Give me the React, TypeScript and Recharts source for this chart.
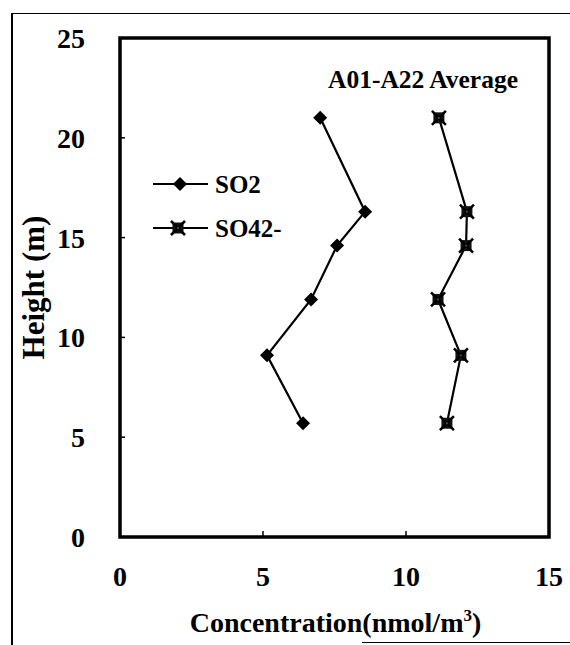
import React from "react";
import {
  ScatterChart,
  Scatter,
  XAxis,
  YAxis,
  ReferenceArea,
  Legend,
} from "recharts";

const HEIGHTS = [21.0, 16.3, 14.6, 11.9, 9.1, 5.7];
const SO2 = [7.0, 8.57, 7.59, 6.68, 5.14, 6.4];
const SO4 = [11.15, 12.13, 12.1, 11.12, 11.92, 11.43];
const X_TICKS = [0, 5, 10, 15];
const Y_TICKS = [0, 5, 10, 15, 20, 25];
const SERIES_NAMES = ["SO2", "SO42-"];
const TITLE = "A01-A22 Average";

const FONT = "'Liberation Serif', 'Times New Roman', serif";

const so2Data = HEIGHTS.map((h, i) => ({ conc: SO2[i], height: h }));
const so4Data = HEIGHTS.map((h, i) => ({ conc: SO4[i], height: h }));

const Diamond = ({ cx, cy }: any) => (
  <polygon
    points={`${cx},${cy - 7} ${cx + 7},${cy} ${cx},${cy + 7} ${cx - 7},${cy}`}
    fill="#000"
  />
);

const StarSquare = ({ cx, cy }: any) => (
  <g>
    <rect x={cx - 5.5} y={cy - 5.5} width={11} height={11} fill="#111" />
    <line x1={cx - 7} y1={cy - 7} x2={cx + 7} y2={cy + 7} stroke="#000" strokeWidth={2.5} />
    <line x1={cx - 7} y1={cy + 7} x2={cx + 7} y2={cy - 7} stroke="#000" strokeWidth={2.5} />
    <rect x={cx - 1} y={cy - 1} width={2} height={2} fill="#444" />
  </g>
);

const LegendBox = () => (
  <svg width={150} height={80}>
    {SERIES_NAMES.map((name, i) => {
      const y = 19 + i * 44;
      return (
        <g key={name}>
          <line x1={3} y1={y} x2={58} y2={y} stroke="#000" strokeWidth={2} />
          {i === 0 ? <Diamond cx={30} cy={y} /> : <StarSquare cx={28} cy={y} />}
          <text
            x={65}
            y={y + 9}
            fontFamily={FONT}
            fontWeight="bold"
            fontSize={25}
            fill="#000"
          >
            {name}
          </text>
        </g>
      );
    })}
  </svg>
);

const TitleLabel = ({ viewBox }: any) => (
  <text
    x={viewBox.x + viewBox.width - 31}
    y={viewBox.y + 50}
    textAnchor="end"
    fontFamily={FONT}
    fontWeight="bold"
    fontSize={25.5}
    fill="#000"
  >
    {TITLE}
  </text>
);

const XTitle = ({ viewBox }: any) => (
  <text
    x={viewBox.x + viewBox.width / 2 + 1}
    y={viewBox.y + 95}
    textAnchor="middle"
    fontFamily={FONT}
    fontWeight="bold"
    fontSize={28}
    fill="#000"
  >
    Concentration(nmol/m
    <tspan dy={-11} fontSize={17}>3</tspan>
    <tspan dy={11}>)</tspan>
  </text>
);

const tickStyle = {
  fill: "#000",
  fontSize: 28,
  fontWeight: "bold",
  fontFamily: FONT,
};

export default function App() {
  return (
    <div style={{ position: "absolute", left: 0, top: 0, width: 570, height: 645, background: "#fff" }}>
      {/* scanned page frame */}
      <div style={{ position: "absolute", left: 12, top: 13, width: 558, height: 0, borderTop: "1.5px solid #000" }} />
      <div style={{ position: "absolute", left: 11, top: 13, width: 0, height: 632, borderLeft: "2px solid #000" }} />
      <div style={{ position: "absolute", left: 362, top: 642, width: 208, height: 0, borderTop: "1.5px solid #000" }} />
      <ScatterChart
        width={570}
        height={645}
        margin={{ top: 38, right: 21, bottom: 0, left: 0 }}
        style={{ position: "absolute", left: 0, top: 0 }}
      >
        <XAxis
          type="number"
          dataKey="conc"
          domain={[0, 15]}
          ticks={X_TICKS}
          height={108}
          axisLine={false}
          tickSize={-6}
          tickMargin={35}
          tickLine={{ stroke: "#000", strokeWidth: 1.5 }}
          tick={tickStyle}
          label={<XTitle />}
        />
        <YAxis
          type="number"
          dataKey="height"
          domain={[0, 25]}
          ticks={Y_TICKS}
          width={120}
          axisLine={false}
          tickSize={-5}
          tickMargin={40}
          tickLine={{ stroke: "#000", strokeWidth: 1.5 }}
          tick={tickStyle}
          label={{
            value: "Height (m)",
            angle: -90,
            position: "insideLeft",
            offset: 33,
            style: {
              textAnchor: "middle",
              fontFamily: FONT,
              fontWeight: "bold",
              fontSize: 31,
              fill: "#000",
            },
          }}
        />
        <ReferenceArea
          x1={0}
          x2={15}
          y1={0}
          y2={25}
          fill="none"
          fillOpacity={0}
          stroke="#000"
          strokeWidth={3.5}
          label={<TitleLabel />}
        />
        <Legend
          layout="vertical"
          align="center"
          verticalAlign="middle"
          content={<LegendBox />}
          wrapperStyle={{ position: "absolute", left: 150, top: 165, width: 150, height: 80 }}
        />
        <Scatter
          name={SERIES_NAMES[0]}
          data={so2Data}
          line={{ stroke: "#000", strokeWidth: 2.2 }}
          shape={<Diamond />}
          isAnimationActive={false}
        />
        <Scatter
          name={SERIES_NAMES[1]}
          data={so4Data}
          line={{ stroke: "#000", strokeWidth: 2.2 }}
          shape={<StarSquare />}
          isAnimationActive={false}
        />
      </ScatterChart>
    </div>
  );
}
